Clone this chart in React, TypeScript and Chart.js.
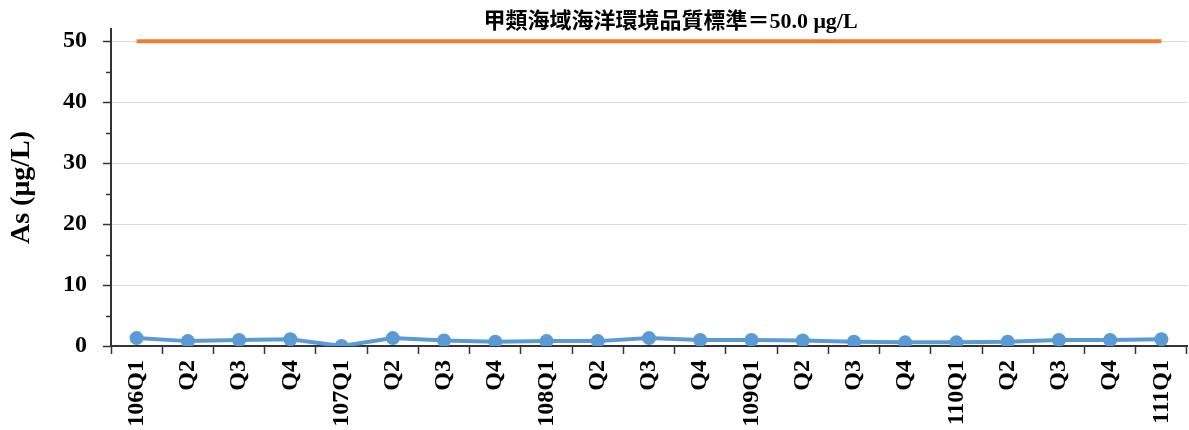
import { useEffect, useRef } from 'react';
import { Chart, registerables } from 'chart.js';

Chart.register(...registerables);

const categories = ['106Q1', 'Q2', 'Q3', 'Q4', '107Q1', 'Q2', 'Q3', 'Q4', '108Q1', 'Q2', 'Q3', 'Q4', '109Q1', 'Q2', 'Q3', 'Q4', '110Q1', 'Q2', 'Q3', 'Q4', '111Q1'];
const asValues = [1.3, 0.8, 1.0, 1.1, 0.0, 1.3, 0.9, 0.7, 0.8, 0.8, 1.3, 1.0, 1.0, 0.9, 0.7, 0.6, 0.6, 0.7, 1.0, 1.0, 1.1];
const standardValue = 50;
const standardLabel = '甲類海域海洋環境品質標準＝50.0 μg/L';
const yTicks = [0, 10, 20, 30, 40, 50];
const yMinorTicks = [5, 15, 25, 35, 45];
const yAxisMax = 52;
const yAxisTitle = 'As (μg/L)';

const SERIF = '"Liberation Serif", "Times New Roman", "Noto Sans CJK TC", serif';

export default function App() {
  const ref = useRef<HTMLCanvasElement | null>(null);

  useEffect(() => {
    document.body.style.margin = '0';
    const canvas = ref.current;
    if (!canvas) return;

    const extras = {
      id: 'extras',
      afterDraw(chart: any) {
        const ctx = chart.ctx;
        const x = chart.scales.x;
        const y = chart.scales.y;
        ctx.save();
        ctx.strokeStyle = '#333333';
        ctx.lineWidth = 1.5;
        yMinorTicks.forEach((v) => {
          const py = Math.round(y.getPixelForValue(v)) + 0.5;
          ctx.beginPath();
          ctx.moveTo(chart.chartArea.left - 5, py);
          ctx.lineTo(chart.chartArea.left, py);
          ctx.stroke();
        });
        ctx.font = 'bold 22px ' + SERIF;
        ctx.fillStyle = '#000000';
        ctx.textAlign = 'center';
        ctx.textBaseline = 'middle';
        const lx = x.getPixelForValue(10.42);
        const ly = y.getPixelForValue(standardValue) - 19;
        ctx.fillText(standardLabel, lx, ly);
        ctx.restore();
      },
    };

    const chart = new Chart(canvas, {
      type: 'line',
      data: {
        labels: categories,
        datasets: [
          {
            label: 'As',
            data: asValues,
            borderColor: '#5B9BD5',
            backgroundColor: '#5B9BD5',
            borderWidth: 4,
            pointRadius: 7,
            pointHoverRadius: 7,
            pointBorderWidth: 0,
            pointBackgroundColor: '#5B9BD5',
            tension: 0,
          },
          {
            label: 'standard',
            data: categories.map(() => standardValue),
            borderColor: '#ED7D31',
            backgroundColor: '#ED7D31',
            borderWidth: 4,
            pointRadius: 0,
            pointHoverRadius: 0,
            tension: 0,
          },
        ],
      },
      options: {
        animation: false,
        responsive: true,
        maintainAspectRatio: false,
        layout: { autoPadding: false, padding: { top: 29, right: 2, left: 0, bottom: 0 } },
        plugins: {
          legend: { display: false },
          tooltip: { enabled: false },
          title: { display: false },
        },
        scales: {
          x: {
            type: 'category',
            offset: true,
            grid: {
              offset: true,
              drawOnChartArea: false,
              drawTicks: true,
              tickLength: 8,
              tickColor: '#333333',
              tickWidth: 1.5,
            },
            border: { display: true, color: '#333333', width: 2 },
            ticks: {
              autoSkip: false,
              maxRotation: 90,
              minRotation: 90,
              padding: 6,
              color: '#000000',
              font: { family: SERIF, size: 24, weight: 'bold' },
            },
            afterFit(scale: any) {
              scale.height = 84;
              scale.paddingRight = 0;
              scale.paddingLeft = 0;
            },
          },
          y: {
            type: 'linear',
            min: 0,
            max: yAxisMax,
            afterBuildTicks(scale: any) {
              scale.ticks = yTicks.map((v) => ({ value: v }));
            },
            grid: {
              color: '#D9D9D9',
              lineWidth: 1,
              drawTicks: true,
              tickLength: 8,
              tickColor: '#333333',
              tickWidth: 1.5,
            },
            border: { display: true, color: '#333333', width: 2 },
            ticks: {
              padding: 16,
              color: '#000000',
              font: { family: SERIF, size: 24, weight: 'bold' },
            },
            title: {
              display: true,
              text: yAxisTitle,
              color: '#000000',
              font: { family: SERIF, size: 28, weight: 'bold' },
              padding: { top: 5, bottom: 0 },
            },
            afterFit(scale: any) {
              scale.width = 111;
              scale.paddingTop = 0;
              scale.paddingBottom = 0;
            },
          },
        },
      },
      plugins: [extras],
    });

    return () => chart.destroy();
  }, []);

  return (
    <div style={{ position: 'relative', width: 1189, height: 430 }}>
      <canvas ref={ref} />
    </div>
  );
}
